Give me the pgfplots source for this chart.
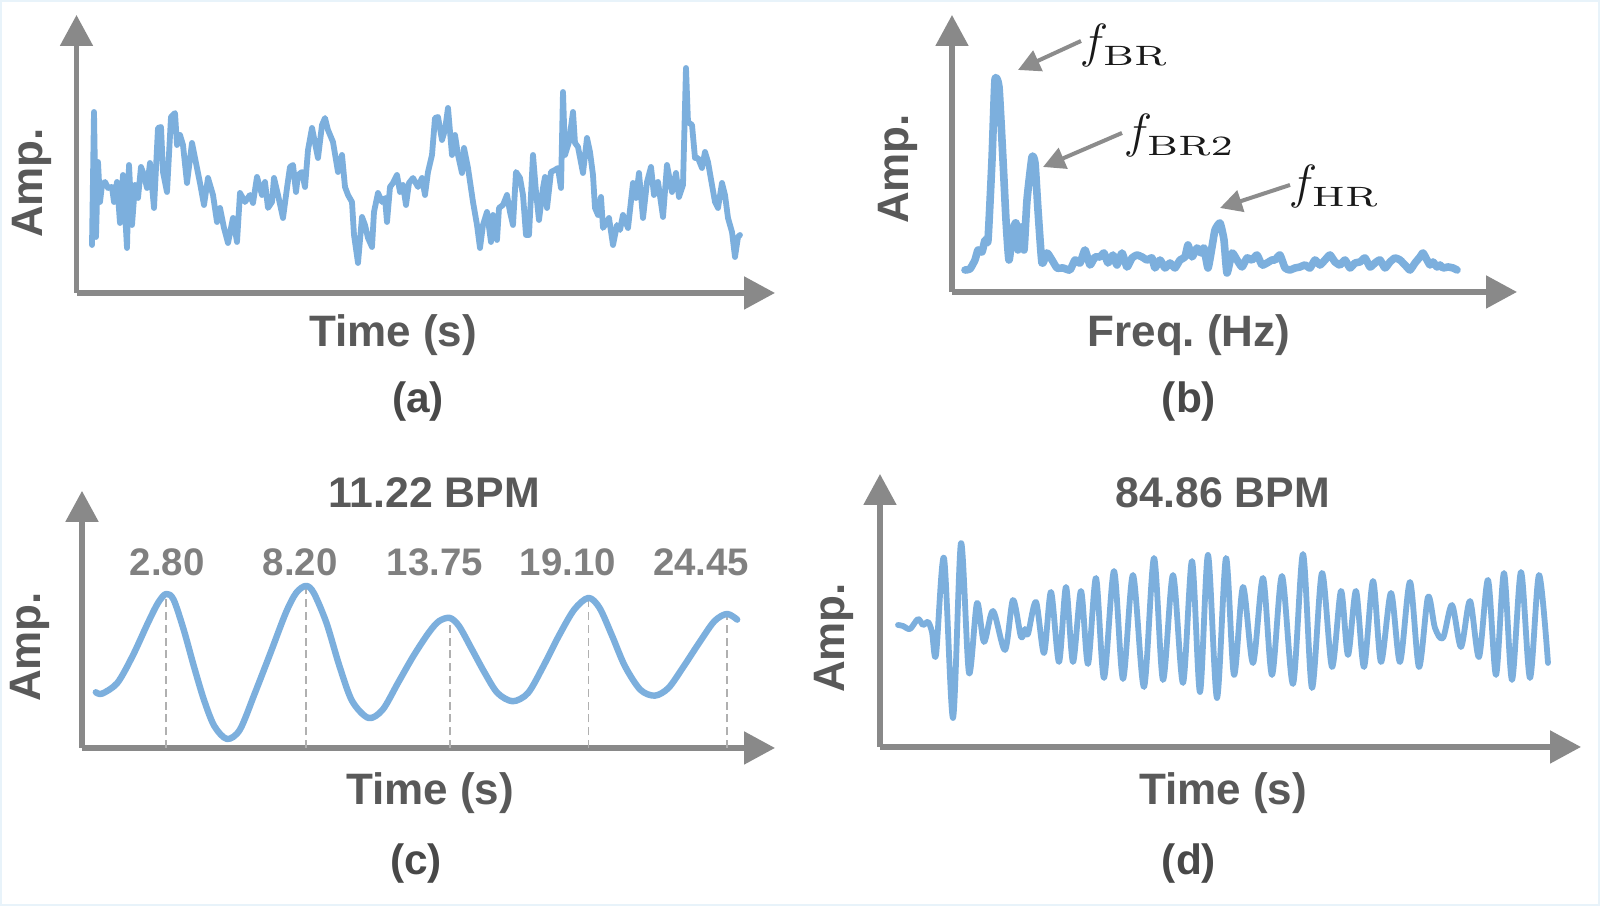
\RequirePackage{fix-cm}
\documentclass[border=0pt]{standalone}
\usepackage[no-math]{fontspec}
\setmainfont{Liberation Sans}
\usepackage{graphicx}
\usepackage{pgfplots}
\pgfplotsset{compat=1.18}
\usetikzlibrary{arrows.meta}

\definecolor{sigblue}{RGB}{124,175,221}
\definecolor{axisgray}{RGB}{137,137,137}
\definecolor{labelgray}{RGB}{89,89,89}
\definecolor{tagdark}{RGB}{72,72,72}
\definecolor{peakgray}{RGB}{128,128,128}
\definecolor{dashgray}{RGB}{176,176,176}
\definecolor{annogray}{RGB}{140,140,140}
\definecolor{edgeblue}{RGB}{232,243,250}

% wide roman subscript for the frequency annotations
\newcommand{\sub}[1]{\scalebox{1.4}[1]{\fontsize{7}{8}\selectfont$\mathrm{#1}$}}

\pgfplotsset{
  sketch/.style={
    scale only axis, clip=false, anchor=south west,
    axis lines=left,
    axis line style={draw=axisgray, line width=1.3pt, -{Triangle[length=7.75pt,width=8pt]}},
    xtick=\empty, ytick=\empty,
  },
  trace/.style={no markers, color=sigblue, line join=round, line cap=round},
}
\tikzset{
  axlab/.style={font=\fontsize{11}{13}\selectfont\bfseries, text=labelgray, inner sep=0pt},
  tag/.style={font=\fontsize{10.6}{13}\selectfont\bfseries, text=tagdark, inner sep=0pt, anchor=base},
  bpm/.style={font=\fontsize{10.7}{13}\selectfont\bfseries, text=labelgray, inner sep=0pt, anchor=base},
  peak/.style={font=\fontsize{9.6}{12}\selectfont\bfseries, text=peakgray, inner sep=0pt, anchor=base},
  anno/.style={font=\fontsize{12}{14}\selectfont, text=black!90, inner sep=0pt, anchor=base west},
  annoarrow/.style={draw=annogray, line width=1pt, -{Triangle[length=5.5pt,width=5.5pt]}},
}

\begin{document}
\begin{tikzpicture}
\fill[white] (0,0) rectangle (400pt,226.5pt);
\draw[edgeblue, line width=0.4pt] (0.2pt,0.2pt) rectangle (399.8pt,226.3pt);
\path[use as bounding box] (0,0) rectangle (400pt,226.5pt);

% (a) raw signal
\begin{axis}[sketch, at={(19.125pt,153.25pt)}, width=174.625pt, height=69.5pt,
  xmin=-15.5, xmax=683, ymin=0, ymax=278]
\addplot[trace, line width=1.45pt] table {
x y
0 48
2 181
4 56
6 131
8 91
10 108
13 111
16 105
20 106
22 91
25 111
28 70
31 118
35 45
37 128
40 68
43 108
46 95
49 126
52 118
55 105
58 130
62 85
66 165
69 166
71 121
75 101
79 176
83 180
85 148
88 158
91 148
95 110
100 150
105 125
108 110
112 88
116 115
121 98
125 71
128 85
132 65
136 50
141 75
145 51
148 100
153 91
158 98
161 90
165 116
170 98
173 111
176 85
180 91
182 115
186 98
191 75
195 105
198 126
201 128
204 101
206 118
210 121
213 106
216 143
220 165
223 150
226 135
230 168
233 175
236 163
241 151
246 121
250 138
253 106
256 98
260 91
262 58
266 30
270 76
273 68
276 55
280 46
282 81
286 100
290 91
293 95
295 71
298 106
301 110
305 118
308 101
311 108
314 88
317 110
321 115
326 106
330 115
333 98
336 121
340 138
343 175
346 176
350 153
353 163
356 185
360 138
363 158
366 138
370 120
372 145
376 125
381 91
385 68
388 45
391 68
395 81
399 51
401 78
405 53
407 85
411 88
415 98
418 81
421 68
424 121
428 115
431 98
434 58
437 58
441 138
444 101
447 73
451 105
453 116
455 85
459 121
463 123
466 125
469 105
471 201
473 138
477 151
481 181
483 150
486 146
491 120
495 155
498 141
501 118
503 85
506 78
509 96
511 65
515 71
517 75
521 48
525 68
528 63
531 78
536 65
541 110
544 95
547 120
551 75
555 111
559 126
562 98
566 111
571 76
575 128
580 101
584 120
587 96
591 108
594 225
596 171
600 168
603 135
606 135
610 125
613 141
616 131
620 108
623 91
626 85
630 110
633 98
636 75
640 61
643 36
646 56
648 58
};
\end{axis}

% (b) spectrum
\begin{axis}[sketch, at={(238pt,153.5pt)}, width=141.25pt, height=69.25pt,
  xmin=-12, xmax=553, ymin=0, ymax=277]
\addplot[trace, line width=1.9pt, smooth, tension=0.3] table {
x y
1 22
6 23
11 32
14 42
18 40
21 52
24 52
28 132
31 212
35 205
39 132
42 72
45 32
49 62
52 69
54 42
57 65
60 42
63 92
68 135
71 129
74 82
78 29
83 39
88 32
93 24
99 24
106 22
111 32
116 29
121 42
126 27
131 35
136 35
140 39
144 29
149 37
153 27
158 39
163 25
168 34
173 37
178 35
183 32
188 34
191 24
196 32
201 24
206 29
211 24
216 32
221 35
224 47
228 35
233 44
237 39
240 44
244 24
248 45
251 62
256 69
260 52
263 19
268 39
273 32
278 25
283 34
288 32
293 37
298 27
303 29
308 32
311 32
316 37
321 24
326 22
331 24
336 25
341 27
346 24
351 32
356 27
361 32
366 37
371 30
376 27
381 32
386 24
391 29
396 30
401 34
406 25
411 29
416 32
421 24
426 30
431 34
436 32
441 27
446 22
451 29
456 35
459 39
463 32
466 27
469 30
473 25
476 27
479 24
484 25
489 24
493 22
};
\draw[annoarrow] (axis cs:117,251) -- (axis cs:54,222);
\draw[annoarrow] (axis cs:158,159) -- (axis cs:79,125);
\draw[annoarrow] (axis cs:326,107) -- (axis cs:256,84);
\node[anno] at (axis cs:115,234) {$f_{\sub{BR}}$};
\node[anno] at (axis cs:159,144) {$f_{\sub{BR2}}$};
\node[anno] at (axis cs:324,93) {$f_{\sub{HR}}$};
\end{axis}

% (c) respiration waveform
\begin{axis}[sketch, at={(20.5pt,39.5pt)}, width=173.25pt, height=64.25pt,
  xmin=-0.444, xmax=26.30, ymin=0, ymax=257]
\foreach \t/\a in {2.80/154, 8.20/162, 13.75/130, 19.10/150, 24.45/134}{
  \edef\temp{\noexpand\addplot[draw=dashgray, line width=0.4pt, dash pattern=on 2pt off 1.2pt, no markers] coordinates {(\t,0) (\t,\a)};}
  \temp
}
\addplot[trace, line width=1.6pt, smooth] table {
x y
0.09 55.7
0.33 54.3
0.92 65
1.51 92
2.10 125
2.49 145
2.80 154
3.09 148.3
3.48 118.3
3.87 82
4.26 48.3
4.66 22
5.15 9
5.65 18.3
6.23 55
6.83 95
7.42 135
7.82 155
8.20 162
8.50 155
8.99 125
9.49 82
9.98 47
10.61 30
11.16 38.3
11.75 65
12.34 91.7
12.93 115
13.33 126.7
13.75 130
14.11 121.7
14.61 98.3
15.10 75
15.59 55
16.18 46.7
16.77 55
17.36 81.7
17.95 111.7
18.55 138.3
19.10 150
19.53 140
20.02 111.7
20.51 81.7
21.10 58.3
21.66 52.3
22.19 60
22.78 81.7
23.37 105
23.96 126.7
24.45 134
24.84 128.3
};
\node[peak] at (axis cs:2.84,172) {2.80};
\node[peak] at (axis cs:7.97,172) {8.20};
\node[peak] at (axis cs:13.18,172) {13.75};
\node[peak] at (axis cs:18.31,172) {19.10};
\node[peak] at (axis cs:23.45,172) {24.45};
\end{axis}

% (d) heartbeat waveform
\begin{axis}[sketch, at={(220pt,39.75pt)}, width=175.25pt, height=68.25pt,
  xmin=-18, xmax=683, ymin=0, ymax=273]
\addplot[trace, line width=1.45pt, smooth] table {
x y
0 122
5 121
12 118
20 128
25 122
30 125
34 115
38 92
46 189
55 29
63 204
71 74
79 144
86 105
95 136
107 97
115 147
123 110
127 118
130 113
138 145
146 94
153 155
161 85
168 160
175 85
183 156
190 83
198 169
206 69
216 176
225 68
235 172
246 60
256 189
265 67
275 172
285 64
294 186
302 55
310 192
319 49
328 189
336 72
345 160
355 84
365 169
374 72
384 171
395 63
405 193
414 59
424 174
434 80
443 156
450 92
458 156
466 80
475 166
483 85
493 154
502 85
512 165
521 80
530 150
537 119
545 109
554 142
563 100
572 146
581 90
590 167
598 72
606 174
614 67
623 175
632 69
641 172
650 84
};
\end{axis}

% axis labels, titles and panel tags
\node[axlab, rotate=90] at (8pt,180.75pt) {Amp.};
\node[axlab, anchor=base] at (98.25pt,139.75pt) {Time (s)};
\node[tag] at (104.5pt,123.25pt) {(a)};

\node[axlab, rotate=90] at (224.5pt,184.25pt) {Amp.};
\node[axlab, anchor=base] at (297.25pt,139.75pt) {Freq.\ (Hz)};
\node[tag] at (297.25pt,123.25pt) {(b)};

\node[bpm] at (108.5pt,99.5pt) {11.22 BPM};
\node[axlab, rotate=90] at (7.5pt,64.75pt) {Amp.};
\node[axlab, anchor=base] at (107.5pt,25.25pt) {Time (s)};
\node[tag] at (104pt,7.75pt) {(c)};

\node[bpm] at (305.75pt,99.5pt) {84.86 BPM};
\node[axlab, rotate=90] at (208.5pt,67pt) {Amp.};
\node[axlab, anchor=base] at (305.75pt,25.25pt) {Time (s)};
\node[tag] at (297.25pt,7.75pt) {(d)};
\end{tikzpicture}
\end{document}
